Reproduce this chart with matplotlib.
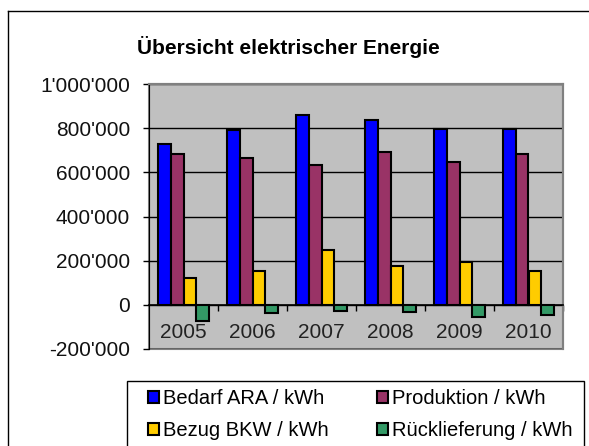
import numpy as np
import matplotlib.pyplot as plt
from matplotlib.patches import Patch, Rectangle
from matplotlib.lines import Line2D
from matplotlib.ticker import FuncFormatter

plt.rcParams['font.family'] = ['Liberation Sans', 'DejaVu Sans']

years = ['2005', '2006', '2007', '2008', '2009', '2010']
bedarf = [730000, 791000, 859000, 837000, 794000, 794000]
produktion = [684000, 667000, 632000, 690000, 649000, 684000]
bezug = [120000, 154000, 248000, 178000, 192000, 154000]
rueck = [-74000, -38000, -27000, -33000, -56000, -44000]

labels = ['Bedarf ARA / kWh', 'Produktion / kWh', 'Bezug BKW / kWh', 'Rücklieferung / kWh']
colors = ['#0000FF', '#993366', '#FFCC00', '#339966']

W, H = 589, 446
fig = plt.figure(figsize=(W / 100, H / 100), dpi=100)
ax = fig.add_axes([149 / W, 1 - 349 / H, (563 - 149) / W, (349 - 84) / H])
ax.set_facecolor('#C0C0C0')

x = np.arange(len(years))
bw = 0.185
series = [bedarf, produktion, bezug, rueck]
for i, s in enumerate(series):
    ax.bar(x + (i - 1.5) * bw, s, bw, color=colors[i], edgecolor='black', linewidth=1.5, zorder=3)

ax.set_xlim(-0.5, len(years) - 0.5)
ax.set_ylim(-200000, 1000000)
ax.set_yticks(np.arange(-200000, 1000001, 200000))
ax.yaxis.set_major_formatter(FuncFormatter(lambda v, p: f'{int(v):,}'.replace(',', "'")))
ax.grid(axis='y', color='black', linewidth=1, zorder=1)
ax.tick_params(axis='y', direction='out', length=4.5, width=1, pad=9, labelsize=15, labelcolor='#111111')

# x axis crosses at zero, tick marks between categories, labels below
ax.spines['bottom'].set_position(('data', 0))
ax.spines['bottom'].set_color('black')
ax.spines['bottom'].set_linewidth(1.2)
ax.spines['bottom'].set_zorder(4)
ax.set_xticks(np.arange(0.5, len(years), 1))
ax.set_xticklabels([])
ax.tick_params(axis='x', which='major', direction='out', length=4, width=1)
ax.set_xticks(x, minor=True)
ax.set_xticklabels(years, minor=True)
ax.tick_params(axis='x', which='minor', length=0, pad=13, labelsize=15, labelcolor='#222222')

ax.spines['left'].set_color('black')
for sp in ['top', 'right']:
    ax.spines[sp].set_color('#808080')
    ax.spines[sp].set_linewidth(1.5)
ax.add_patch(Rectangle((0, 0), 1, 1, transform=ax.transAxes, fill=False,
                       edgecolor='#808080', linewidth=1.5, clip_on=False, zorder=0.5))

fig.text(288 / W, 1 - 47 / H, 'Übersicht elektrischer Energie', ha='center', va='center',
         fontsize=15, fontweight='bold')

# chart border (top and left visible)
fig.add_artist(Line2D([7.5 / W, 1], [1 - 11 / H, 1 - 11 / H], color='black', linewidth=1))
fig.add_artist(Line2D([7.5 / W, 7.5 / W], [0, 1 - 11 / H], color='black', linewidth=1))

# legend frame
fig.add_artist(Rectangle((127 / W, -0.05), (584 - 127) / W, 0.05 + 1 - 381 / H,
                         transform=fig.transFigure, fill=False, edgecolor='black', linewidth=1))
handles = [Patch(facecolor=c, edgecolor='black', linewidth=1.5) for c in colors]
order = [0, 2, 1, 3]
fig.legend([handles[i] for i in order], [labels[i] for i in order], ncol=2, loc='upper left',
           bbox_to_anchor=(148 / W, 1 - 389 / H), frameon=False, fontsize=14.5, borderpad=0,
           borderaxespad=0, handlelength=0.55, handleheight=0.55, handletextpad=0.2,
           columnspacing=2.4, labelspacing=0.65)

fig.savefig('out.png', dpi=100)
